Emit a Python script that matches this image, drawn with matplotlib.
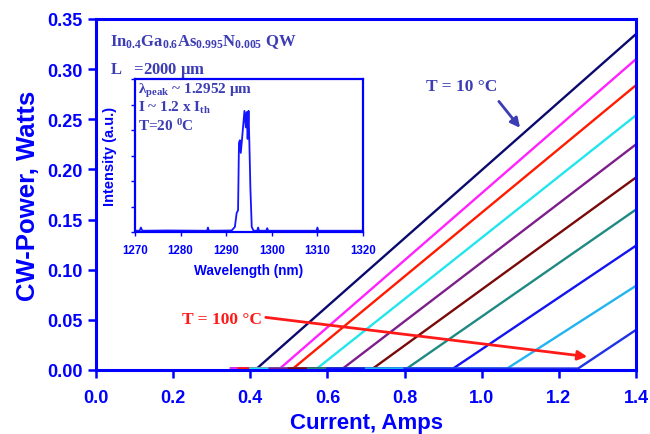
import matplotlib
matplotlib.use("Agg")
import matplotlib.pyplot as plt
import numpy as np

plt.rcParams["mathtext.fontset"] = "custom"
plt.rcParams["mathtext.rm"] = "Liberation Serif:bold"
plt.rcParams["mathtext.it"] = "Liberation Serif:bold"
plt.rcParams["mathtext.bf"] = "Liberation Serif:bold"
plt.rcParams["mathtext.default"] = "rm"

# ---- main L-I data (T = 10 ... 100 C) ----
temps = [10, 20, 30, 40, 50, 60, 70, 80, 90, 100]
colors = ["#0A0A6E", "#FF22FF", "#FF1A00", "#22E5EE", "#7E1E8C",
          "#7A0A0A", "#1E8A82", "#1414F0", "#22B4F0", "#1E32E6"]
i_start = [0.35, 0.35, 0.37, 0.40, 0.45, 0.50, 0.55, 0.60, 0.70, 0.80]
i_th = [0.417, 0.477, 0.511, 0.573, 0.640, 0.718, 0.806, 0.926, 1.066, 1.250]
p_end = [0.335, 0.310, 0.284, 0.254, 0.225, 0.192, 0.160, 0.124, 0.084, 0.040]
i_end = 1.4

# ---- inset spectrum ----
wl = [1270, 1271.0, 1271.3, 1271.6, 1277, 1285.8, 1286.0, 1286.2, 1291.2, 1291.9,
      1292.3, 1292.6, 1292.8, 1293.0, 1293.2, 1293.5, 1294.0, 1294.3, 1294.5,
      1294.7, 1294.9, 1295.1, 1295.3, 1295.6, 1296.0, 1296.8, 1297.0, 1297.2,
      1298.8, 1299.0, 1299.2, 1309.8, 1310.0, 1310.2, 1320]
inten = [0.01, 0.01, 0.035, 0.01, 0.012, 0.01, 0.035, 0.01, 0.012, 0.04,
         0.15, 0.17, 0.70, 0.72, 0.62, 0.74, 0.95, 0.82, 0.94, 0.73,
         0.95, 0.67, 0.35, 0.04, 0.01, 0.01, 0.035, 0.01,
         0.01, 0.03, 0.01, 0.01, 0.035, 0.01, 0.01]

BLUE = "#0000FF"
TXT = "#3C3CB4"

fig = plt.figure(figsize=(6.5, 4.35), dpi=100)
ax = fig.add_axes([96/650, 1-371/435, 540/650, 351/435])

for c, s, th, pe in zip(colors, i_start, i_th, p_end):
    ax.plot([s, th, i_end], [0.0015, 0.0015, pe], color=c, lw=1.7)

ax.set_xlim(0, 1.4)
ax.set_ylim(0, 0.35)
ax.set_xticks(np.arange(0, 1.41, 0.2))
ax.set_yticks(np.arange(0, 0.351, 0.05))
ax.set_xticklabels([f"{v:.1f}" for v in np.arange(0, 1.41, 0.2)])
ax.set_yticklabels([f"{v:.2f}" for v in np.arange(0, 0.351, 0.05)])
for sp in ax.spines.values():
    sp.set_color(BLUE)
    sp.set_linewidth(2.2)
ax.tick_params(colors=BLUE, width=1.8, length=6, direction="out", labelsize=13)
ax.tick_params(axis="x", pad=8)
for lab in ax.get_xticklabels() + ax.get_yticklabels():
    lab.set_fontweight("bold")
    lab.set_family("Liberation Sans")
ax.set_xlabel("Current, Amps", fontsize=16, fontweight="bold", color=BLUE,
              family="Liberation Sans", labelpad=4)
ax.set_ylabel("CW-Power, Watts", fontsize=18.5, fontweight="bold", color=BLUE,
              family="Liberation Sans", labelpad=5)

serif = "Liberation Serif"
ax.text(0.036, 0.328, r"In$_{0.4}$Ga$_{0.6}$As$_{0.995}$N$_{0.005}$ QW",
        fontsize=12, fontweight="bold", color=TXT, family=serif, va="center")
ax.text(0.036, 0.300, r"L   =2000 $\mu$m", fontsize=12, fontweight="bold",
        color=TXT, family=serif, va="center")

ax.text(0.949, 0.2832, "T = 10 °C", fontsize=12.5, fontweight="bold", color=TXT,
        family=serif, ha="center", va="center")
ax.annotate("", xy=(1.104, 0.2393), xytext=(1.04, 0.270),
            arrowprops=dict(arrowstyle="-|>", color=TXT, lw=2, mutation_scale=14))
ax.text(0.223, 0.0509, "T = 100 °C", fontsize=12.5, fontweight="bold", color="#FF1A1A",
        family=serif, ha="left", va="center")
ax.annotate("", xy=(1.281, 0.0130), xytext=(0.433, 0.0528),
            arrowprops=dict(arrowstyle="-|>", color="#FF1A1A", lw=2, mutation_scale=14))

# ---- inset ----
ins = fig.add_axes([135/650, 1-233/435, 228/650, 153/435])
ins.plot(wl, inten, color="#1414FF", lw=1.3)
ins.set_xlim(1270, 1320)
ins.set_ylim(0, 1.2)
ins.set_xticks(np.arange(1270, 1321, 10))
ins.set_yticks(np.arange(0, 1.21, 0.2))
ins.set_yticklabels([])
for sp in ins.spines.values():
    sp.set_color(BLUE)
    sp.set_linewidth(1.6)
ins.tick_params(axis="x", colors=BLUE, width=1, length=3, direction="out",
                labelsize=8.3, pad=6)
ins.tick_params(axis="y", colors=BLUE, width=1, length=3, direction="out")
for lab in ins.get_xticklabels():
    lab.set_fontweight("bold")
    lab.set_family("Liberation Sans")
ins.set_xlabel("Wavelength (nm)", fontsize=9.8, fontweight="bold", color=BLUE,
               family="Liberation Sans", labelpad=5)
ins.set_ylabel("Intensity (a.u.)", fontsize=10.5, fontweight="bold", color=BLUE,
               family="Liberation Sans", labelpad=6.5)
ins.text(0.015, 0.925, r"$\lambda_{peak}$ ~ 1.2952 $\mu$m",
         transform=ins.transAxes, fontsize=11, fontweight="bold", color=TXT,
         family=serif, va="center")
ins.text(0.015, 0.815, r"I ~ 1.2 x I$_{th}$", transform=ins.transAxes,
         fontsize=11, fontweight="bold", color=TXT, family=serif, va="center")
ins.text(0.015, 0.70, r"T=20 $^{0}$C", transform=ins.transAxes,
         fontsize=11, fontweight="bold", color=TXT, family=serif, va="center")

fig.savefig("out.png", dpi=100)
